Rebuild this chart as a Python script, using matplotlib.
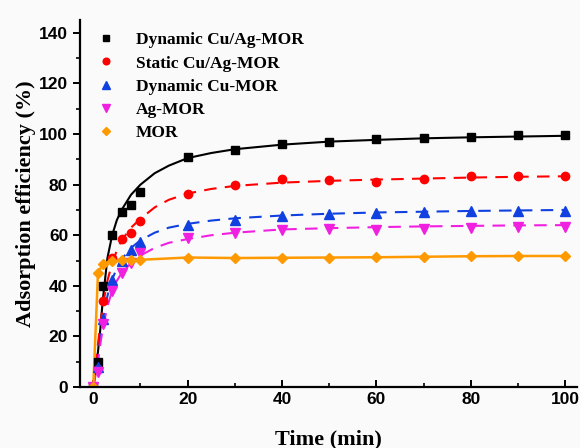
import matplotlib
matplotlib.use("Agg")
import matplotlib.pyplot as plt
from matplotlib.ticker import MultipleLocator

# measured points
t_pts = [0, 1, 2, 4, 6, 8, 10, 20, 30, 40, 50, 60, 70, 80, 90, 100]
dyn_cuag = [0, 10, 40, 60, 69, 72, 77, 91, 93.5, 96, 97, 98, 98.5, 99, 99.5, 99.5]
sta_cuag = [0, 7, 34, 51, 58.6, 61, 65.5, 76.3, 79.8, 82.2, 81.8, 81, 82.2, 83.3, 83.3, 83.4]
dyn_cu = [0, 8, 27, 42.5, 50, 54, 57.4, 64, 66, 67.6, 68.4, 68.8, 69.2, 69.6, 69.6, 69.7]
ag_mor = [0, 6, 25, 38, 45, 49, 53, 59, 61, 62, 62.5, 62.1, 62.5, 63, 63.3, 63.3]
mor = [0, 45, 48.6, 50, 50.3, 50.2, 50.3, 51.2, 51, 51.1, 51.2, 51.3, 51.5, 51.7, 51.8, 51.8]

# fitted curves
t_fit = [0, 0.5, 1, 1.5, 2, 3, 4, 5, 6, 8, 10, 13, 16, 20, 25, 30, 40, 50, 60, 70, 80, 90, 100]
fit_dyn_cuag = [0, 7, 14, 23, 34, 51, 60, 66, 70, 76, 80, 84.5, 87.5, 90.5, 92.5, 94, 95.8, 97, 97.7, 98.3, 98.7, 99, 99.3]
fit_sta_cuag = [0, 8, 17, 25, 32, 42, 49, 54, 58, 63, 66.5, 71, 74, 76.5, 78.3, 79.5, 80.8, 81.5, 82, 82.4, 82.8, 83.1, 83.3]
fit_dyn_cu = [0, 6, 12, 19, 26, 36, 42.5, 47, 50.5, 55, 58, 61, 63, 64.5, 65.8, 66.7, 67.8, 68.5, 69, 69.3, 69.6, 69.8, 70]
fit_ag_mor = [0, 5, 10, 17, 23, 32, 38, 42, 45, 49, 52, 55, 57, 58.5, 60, 61, 62.3, 62.8, 63.2, 63.5, 63.7, 63.9, 64]

labels = ["Dynamic Cu/Ag-MOR", "Static Cu/Ag-MOR", "Dynamic Cu-MOR", "Ag-MOR", "MOR"]

fig = plt.figure(figsize=(5.8, 4.48), dpi=100, facecolor="#fafafa")
ax = fig.add_axes([0.138, 0.136, 0.857, 0.819])
ax.set_facecolor("#fafafa")

c_red, c_blue, c_mag, c_org = "#ff0000", "#1040e0", "#f020e0", "#ff9900"
dash = (0, (6, 4))

ax.plot(t_fit, fit_dyn_cuag, color="black", lw=1.5)
ax.plot(t_fit, fit_sta_cuag, color=c_red, lw=1.5, linestyle=dash)
ax.plot(t_fit, fit_dyn_cu, color=c_blue, lw=1.5, linestyle=dash)
ax.plot(t_fit, fit_ag_mor, color=c_mag, lw=1.5, linestyle=dash)
ax.plot(t_pts, mor, color=c_org, lw=1.8)

h1, = ax.plot(t_pts, dyn_cuag, "s", color="black", ms=5.5, ls="none")
h2, = ax.plot(t_pts, sta_cuag, "o", color=c_red, ms=6, ls="none")
h3, = ax.plot(t_pts, dyn_cu, "^", color=c_blue, ms=6.5, ls="none")
h4, = ax.plot(t_pts, ag_mor, "v", color=c_mag, ms=6.5, ls="none")
h5, = ax.plot(t_pts, mor, "D", color=c_org, ms=5, ls="none")

ax.set_xlim(-2.8, 102.5)
ax.set_ylim(0, 145)
ax.xaxis.set_major_locator(MultipleLocator(20))
ax.xaxis.set_minor_locator(MultipleLocator(10))
ax.yaxis.set_major_locator(MultipleLocator(20))
ax.yaxis.set_minor_locator(MultipleLocator(10))

for s in ["top", "right"]:
    ax.spines[s].set_visible(False)
for s in ["left", "bottom"]:
    ax.spines[s].set_linewidth(1.6)

ax.tick_params(axis="x", which="major", direction="in", length=5, width=1.4)
ax.tick_params(axis="x", which="minor", direction="in", length=3, width=1.2)
ax.tick_params(axis="y", which="major", direction="out", length=5, width=1.4)
ax.tick_params(axis="y", which="minor", direction="out", length=3, width=1.2)
for lab in ax.get_xticklabels() + ax.get_yticklabels():
    lab.set_family("Liberation Sans")
    lab.set_fontweight("bold")
    lab.set_fontsize(12.5)

ax.set_xlabel("Time (min)", family="Liberation Serif", fontweight="bold", fontsize=16, labelpad=16)
ax.set_ylabel("Adsorption efficiency (%)", family="Liberation Serif", fontweight="bold", fontsize=16, labelpad=2)

ax.legend([h1, h2, h3, h4, h5], labels, loc="upper left", bbox_to_anchor=(0.0, 1.0),
          frameon=False, handletextpad=0.9, labelspacing=0.4, borderaxespad=0.3,
          markerscale=0.8, handlelength=1.6,
          prop={"family": "Liberation Serif", "weight": "bold", "size": 12.5})

fig.savefig("out.png", dpi=100, facecolor=fig.get_facecolor())
